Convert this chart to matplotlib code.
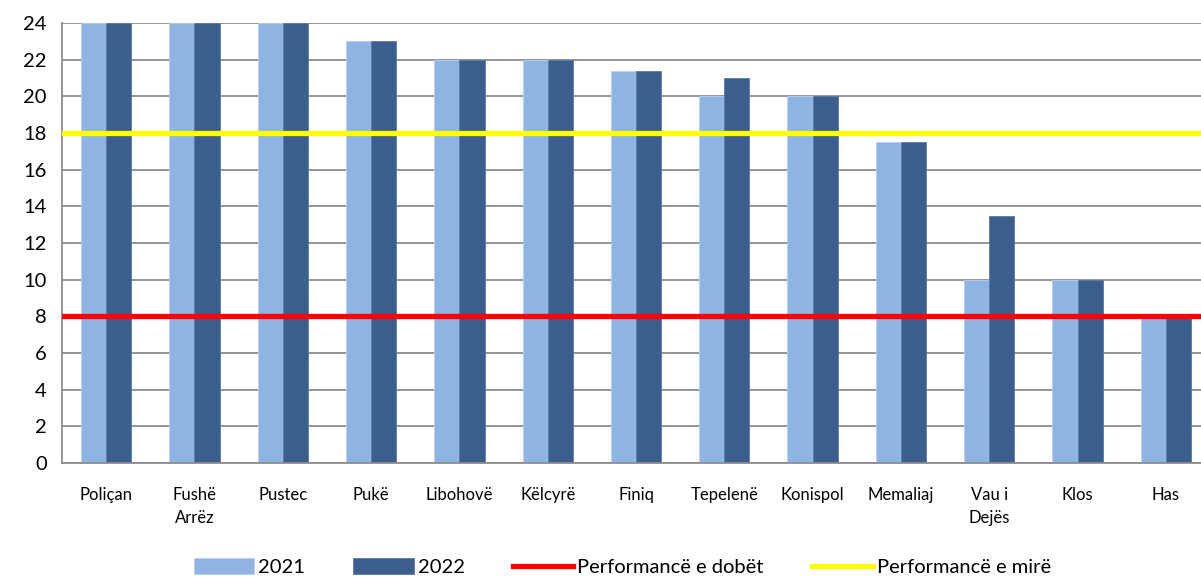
import matplotlib.pyplot as plt
import numpy as np

plt.rcParams['font.family'] = ['Lato', 'DejaVu Sans']

municipalities = ['Poliçan', 'Fushë\nArrëz', 'Pustec', 'Pukë', 'Libohovë', 'Këlcyrë',
                  'Finiq', 'Tepelenë', 'Konispol', 'Memaliaj', 'Vau i\nDejës', 'Klos', 'Has']
score_2021 = [24, 24, 24, 23, 22, 22, 21.4, 20, 20, 17.5, 10, 10, 8]
score_2022 = [24, 24, 24, 23, 22, 22, 21.4, 21, 20, 17.5, 13.5, 10, 8]
weak_level = 8
good_level = 18

fig = plt.figure(figsize=(12.01, 5.77), dpi=100)
# axes runs slightly past the right edge, as in the source image
ax = fig.add_axes([62/1201, (577-463)/577, 1148/1201, 440/577])

x = np.arange(len(municipalities))
w = 0.285
ax.bar(x - w/2, score_2021, w, color='#8EB4E3', edgecolor='#B9D0EE', linewidth=0.6,
       label='2021', zorder=2)
ax.bar(x + w/2, score_2022, w, color='#3A5F8F', edgecolor='#5A7AA5', linewidth=0.6,
       label='2022', zorder=2)

ax.axhline(weak_level, color='#FF0000', lw=3.8, zorder=3, label='Performancë e dobët')
ax.axhline(good_level, color='#FFFF00', lw=3.8, zorder=3, label='Performancë e mirë')

ax.set_xlim(-0.5, len(municipalities) - 0.5)
ax.set_ylim(0, 24)
ax.set_yticks(np.arange(0, 25, 2))
ax.yaxis.grid(True, color='#8C8C8C', lw=1.3, zorder=0)
ax.set_axisbelow(True)
for s in ['top', 'right']:
    ax.spines[s].set_visible(False)
for s in ['left', 'bottom']:
    ax.spines[s].set_color('#8C8C8C')
    ax.spines[s].set_linewidth(1.3)

ax.set_xticks(x)
ax.set_xticklabels(municipalities, fontsize=12, linespacing=1.55)
ax.tick_params(axis='x', length=0, pad=17)
ax.tick_params(axis='y', length=0, labelsize=14.5, pad=11)

handles, labels = ax.get_legend_handles_labels()
order = [2, 3, 0, 1]
handles = [handles[i] for i in order]
labels = [labels[i] for i in order]
fig.legend(handles, labels, loc='lower center', ncol=4, frameon=False, fontsize=14.5,
           bbox_to_anchor=(0.518, -0.03), handlelength=3.0, handleheight=0.8,
           handletextpad=0.2, columnspacing=2.4)

fig.savefig('out.png', dpi=100)
